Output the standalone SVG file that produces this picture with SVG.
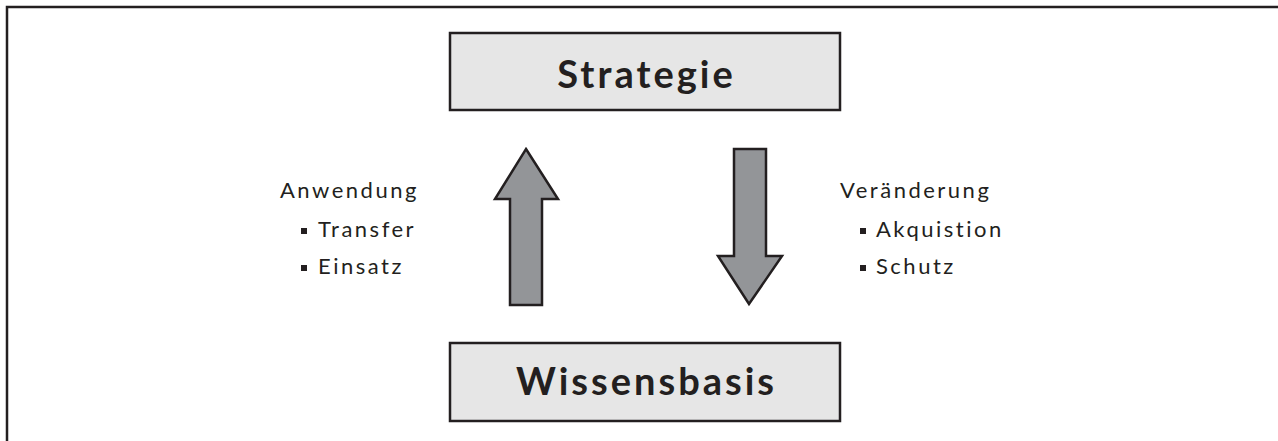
<svg xmlns="http://www.w3.org/2000/svg" width="1278" height="441" viewBox="0 0 1278 441">
  <style>
    .box { fill: #e6e6e6; stroke: #231f20; stroke-width: 2.5; }
    .arrow { fill: #939598; stroke: #231f20; stroke-width: 2.5; stroke-linejoin: miter; }
    .title { font-family: Lato, "Open Sans", sans-serif; font-weight: 700; font-size: 38px; letter-spacing: 3px; fill: #231f20; text-anchor: middle; }
    .label { font-family: Lato, "Open Sans", sans-serif; font-size: 22px; letter-spacing: 2.5px; fill: #231f20; }
    .bullet { fill: #231f20; }
  </style>
  <rect width="1278" height="441" fill="#ffffff"/>
  <!-- outer frame, right and bottom edges run off the canvas -->
  <rect x="7" y="7" width="1290" height="460" fill="none" stroke="#231f20" stroke-width="2.5"/>

  <g id="node-strategie">
    <rect class="box" x="450" y="33" width="390" height="77"/>
    <text class="title" x="646.5" y="88">Strategie</text>
  </g>

  <g id="node-wissensbasis">
    <rect class="box" x="450" y="343" width="390" height="78"/>
    <text class="title" x="646.5" y="395">Wissensbasis</text>
  </g>

  <g id="connectors">
    <polygon id="arrow-up" class="arrow" points="526,149 558,199 542,199 542,305 510,305 510,199 495,199"/>
    <polygon id="arrow-down" class="arrow" points="734,149 766,149 766,256 782,256 749,304 718,256 734,256"/>
  </g>

  <g id="label-anwendung">
    <text class="label" x="280" y="198">Anwendung</text>
    <rect class="bullet" x="301" y="228" width="6" height="6"/>
    <text class="label" x="318" y="237">Transfer</text>
    <rect class="bullet" x="301" y="265" width="6" height="6"/>
    <text class="label" x="318" y="274">Einsatz</text>
  </g>

  <g id="label-veraenderung">
    <text class="label" x="840" y="198">Veränderung</text>
    <rect class="bullet" x="860" y="228" width="6" height="6"/>
    <text class="label" x="876" y="237">Akquistion</text>
    <rect class="bullet" x="860" y="265" width="6" height="6"/>
    <text class="label" x="876" y="274">Schutz</text>
  </g>
</svg>
